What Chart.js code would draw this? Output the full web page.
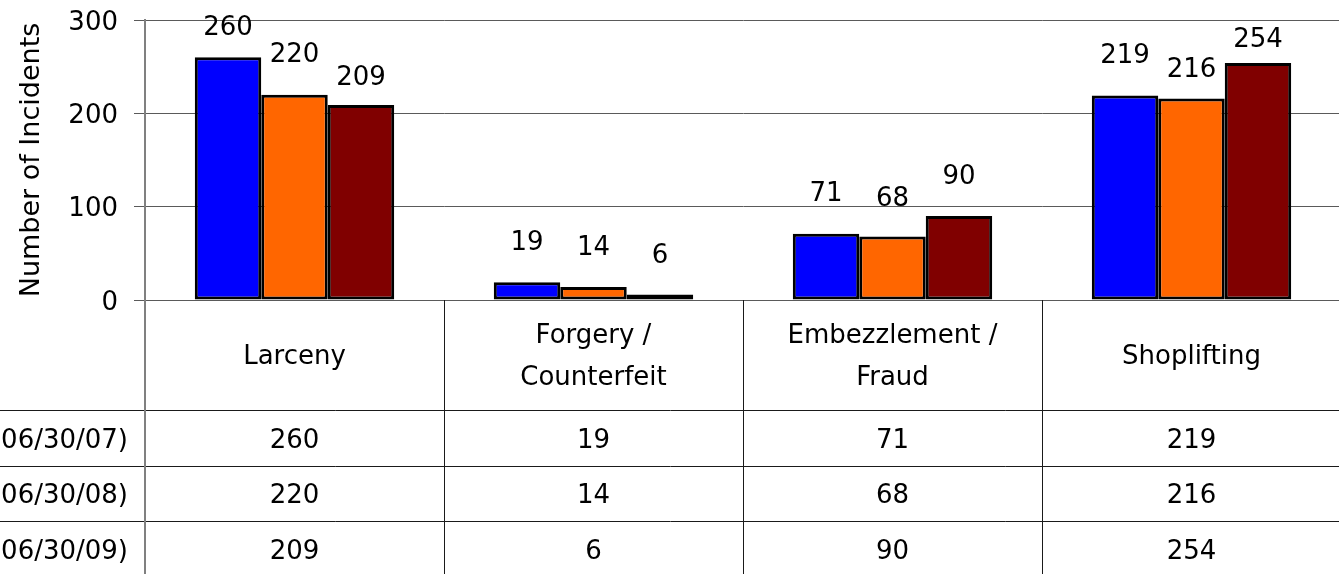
<!DOCTYPE html>
<html>
<head>
<meta charset="utf-8">
<script src="https://cdn.jsdelivr.net/npm/chart.js@4/dist/chart.umd.min.js"></script>
<style>
  html, body { margin: 0; padding: 0; background: #fff; overflow: hidden; }
  #wrap { width: 1341px; height: 574px; }
</style>
</head>
<body>
<div id="wrap"><canvas id="c" width="1341" height="574"></canvas></div>
<script>
// ---- data ----
const categories = [["Larceny"], ["Forgery /", "Counterfeit"], ["Embezzlement /", "Fraud"], ["Shoplifting"]];
const seriesNames = ["FY 2007 (07/01/06 - 06/30/07)", "FY 2008 (07/01/07 - 06/30/08)", "FY 2009 (07/01/08 - 06/30/09)"];
const fy2007 = [260, 19, 71, 219];
const fy2008 = [220, 14, 68, 216];
const fy2009 = [209, 6, 90, 254];
const yTicks = [0, 100, 200, 300];
const yTitle = "Number of Incidents";

// ---- styles ----
const colors = ["#0000FF", "#FF6600", "#800000"];
const FONT = "DejaVu Sans";
const FS = 26;
// label lift above bar top (px), per series per category
const labelLift = [[29, 39, 39, 39], [39, 39, 37, 28], [27, 38, 39, 23]];

const seriesValues = [fy2007, fy2008, fy2009];

const valueLabels = {
  id: 'valueLabels',
  afterDatasetsDraw(chart) {
    const ctx = chart.ctx;
    ctx.save();
    ctx.font = FS + "px '" + FONT + "'";
    ctx.fillStyle = "#000";
    ctx.textAlign = "center";
    ctx.textBaseline = "middle";
    chart.data.datasets.forEach((ds, di) => {
      const meta = chart.getDatasetMeta(di);
      meta.data.forEach((el, i) => {
        ctx.fillText(String(ds.data[i]), el.x, el.y - labelLift[di][i]);
      });
    });
    ctx.restore();
  }
};

const dataTable = {
  id: 'dataTable',
  afterDraw(chart) {
    const ctx = chart.ctx;
    const ca = chart.chartArea;
    const xs = chart.scales.x;
    const n = categories.length;
    const cw = (ca.right - ca.left) / n;
    const top = ca.bottom;
    const headerH = 110;
    const rowH = 55.5;
    const H = chart.height;
    ctx.save();
    ctx.strokeStyle = "#1a1a1a";
    ctx.lineWidth = 1;
    for (let r = 0; r < seriesNames.length; r++) {
      const y = Math.round(top + headerH + r * rowH) + 0.5;
      ctx.beginPath();
      ctx.moveTo(0, y);
      ctx.lineTo(chart.width, y);
      ctx.stroke();
    }
    for (let i = 0; i <= n; i++) {
      const x = Math.round(ca.left + i * cw);
      ctx.beginPath();
      if (i === 0) {
        ctx.strokeStyle = "#808080"; ctx.lineWidth = 2;
        ctx.moveTo(x, top); ctx.lineTo(x, H);
      } else {
        ctx.strokeStyle = "#1a1a1a"; ctx.lineWidth = 1;
        ctx.moveTo(x + 0.5, top); ctx.lineTo(x + 0.5, H);
      }
      ctx.stroke();
    }
    ctx.font = FS + "px '" + FONT + "'";
    ctx.fillStyle = "#000";
    ctx.textBaseline = "middle";
    ctx.textAlign = "center";
    categories.forEach((lines, i) => {
      const cx = xs.getPixelForValue(i);
      const cy = top + headerH / 2 + 2;
      const lh = 42;
      lines.forEach((ln, k) => {
        ctx.fillText(ln, cx, cy + (k - (lines.length - 1) / 2) * lh);
      });
    });
    seriesNames.forEach((name, r) => {
      const cy = top + headerH + r * rowH + rowH / 2 + 3;
      ctx.textAlign = "right";
      ctx.fillText(name, 128, cy);
      ctx.textAlign = "center";
      seriesValues[r].forEach((v, i) => {
        ctx.fillText(String(v), xs.getPixelForValue(i), cy);
      });
    });
    ctx.restore();
  }
};

new Chart(document.getElementById('c'), {
  type: 'bar',
  data: {
    labels: categories.map(c => c.join(' ')),
    datasets: seriesValues.map((vals, i) => ({
      label: seriesNames[i],
      data: vals,
      backgroundColor: colors[i],
      borderColor: "#000",
      borderWidth: 3,
      borderSkipped: false,
      categoryPercentage: 0.667,
      barPercentage: 1.0
    }))
  },
  options: {
    responsive: false,
    animation: false,
    devicePixelRatio: 1,
    layout: { padding: { top: 20, right: 0, bottom: 274, left: 0 } },
    plugins: { legend: { display: false }, tooltip: { enabled: false } },
    scales: {
      x: { display: false },
      y: {
        min: 0, max: 300,
        afterBuildTicks: s => { s.ticks = yTicks.map(v => ({ value: v })); },
        afterFit: s => { s.width = 145; s.paddingTop = 0; s.paddingBottom = 0; },
        ticks: { color: "#000", font: { family: FONT, size: FS }, padding: 16, labelOffset: 3 },
        grid: { color: "#5a5a5a", lineWidth: 1, tickLength: 11, tickColor: "#5a5a5a", drawTicks: true },
        border: { color: "#808080", width: 2 },
        title: {
          display: true, text: yTitle, color: "#000",
          font: { family: FONT, size: 27 },
          padding: { top: 16, bottom: 0 }
        }
      }
    }
  },
  plugins: [valueLabels, dataTable]
});
</script>
</body>
</html>
